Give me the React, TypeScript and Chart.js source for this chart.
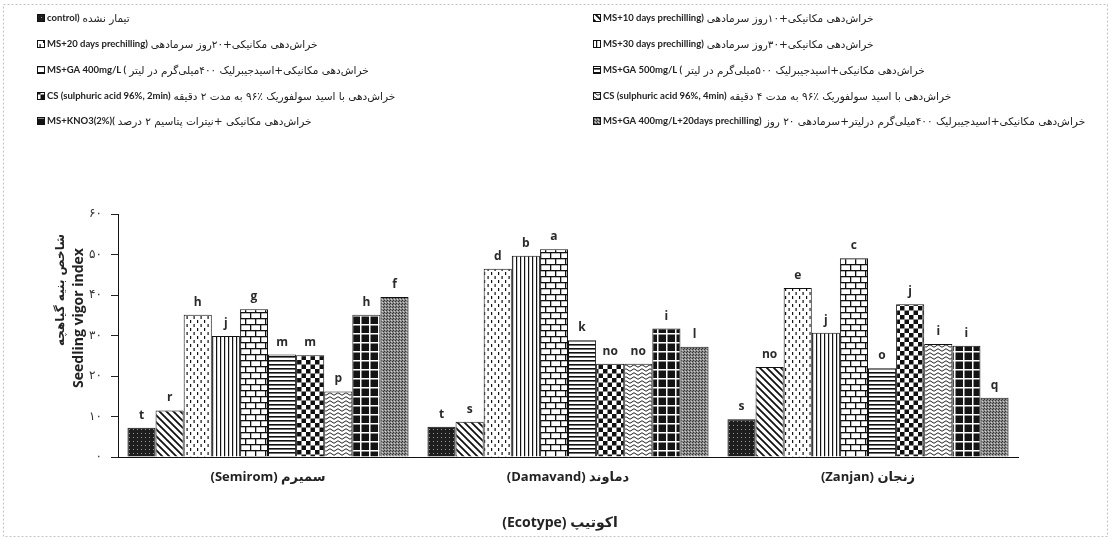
import React, { useEffect, useRef } from 'react';
import { Chart, registerables } from 'chart.js';

Chart.register(...registerables);

// ---------- data ----------
const ecotypes = ['(Semirom) سمیرم', '(Damavand) دماوند', '(Zanjan) زنجان'];
const yTickLabels = ['۰', '۱۰', '۲۰', '۳۰', '۴۰', '۵۰', '۶۰'];

const controlValues = [7.2, 7.5, 9.3];
const ms10Values = [11.5, 8.7, 22.2];
const ms20Values = [35.1, 46.5, 41.7];
const ms30Values = [29.9, 49.7, 30.7];
const ga400Values = [36.5, 51.3, 49.1];
const ga500Values = [25.3, 28.8, 21.9];
const cs2Values = [25.1, 23.0, 37.7];
const cs4Values = [16.2, 23.0, 27.9];
const kno3Values = [35.1, 31.7, 27.5];
const ga400p20Values = [39.5, 27.2, 14.6];

const controlLetters = ['t', 't', 's'];
const ms10Letters = ['r', 's', 'no'];
const ms20Letters = ['h', 'd', 'e'];
const ms30Letters = ['j', 'b', 'j'];
const ga400Letters = ['g', 'a', 'c'];
const ga500Letters = ['m', 'k', 'o'];
const cs2Letters = ['m', 'no', 'j'];
const cs4Letters = ['p', 'no', 'i'];
const kno3Letters = ['h', 'i', 'i'];
const ga400p20Letters = ['f', 'l', 'q'];

const treatmentEnglish = [
  'control)',
  'MS+10 days prechilling)',
  'MS+20 days prechilling)',
  'MS+30 days prechilling)',
  'MS+GA 400mg/L (',
  'MS+GA 500mg/L (',
  'CS (sulphuric acid 96%, 2min)',
  'CS (sulphuric acid 96%, 4min)',
  'MS+KNO3(2%)(',
  'MS+GA 400mg/L+20days prechilling)',
];
const treatmentPersian = [
  'تیمار نشده',
  'خراش‌دهی مکانیکی+۱۰روز سرمادهی',
  'خراش‌دهی مکانیکی+۲۰روز سرمادهی',
  'خراش‌دهی مکانیکی+۳۰روز سرمادهی',
  'خراش‌دهی مکانیکی+اسیدجیبرلیک ۴۰۰میلی‌گرم در لیتر',
  'خراش‌دهی مکانیکی+اسیدجیبرلیک ۵۰۰میلی‌گرم در لیتر',
  'خراش‌دهی با اسید سولفوریک ٪۹۶ به مدت ۲ دقیقه',
  'خراش‌دهی با اسید سولفوریک ٪۹۶ به مدت ۴ دقیقه',
  'خراش‌دهی مکانیکی +نیترات پتاسیم ۲ درصد',
  'خراش‌دهی مکانیکی+اسیدجیبرلیک ۴۰۰میلی‌گرم درلیتر+سرمادهی ۲۰ روز',
];

const yTitleEnglish = 'Seedling vigor index';
const yTitlePersian = 'شاخص بنیه گیاهچه';
const xTitle = '(Ecotype) اکوتیپ';

const seriesValues = [
  controlValues, ms10Values, ms20Values, ms30Values, ga400Values,
  ga500Values, cs2Values, cs4Values, kno3Values, ga400p20Values,
];
const seriesLetters = [
  controlLetters, ms10Letters, ms20Letters, ms30Letters, ga400Letters,
  ga500Letters, cs2Letters, cs4Letters, kno3Letters, ga400p20Letters,
];

// ---------- patterns ----------
function makePattern(w: number, h: number, draw: (c: CanvasRenderingContext2D) => void): CanvasPattern {
  const cv = document.createElement('canvas');
  cv.width = w;
  cv.height = h;
  const c = cv.getContext('2d')!;
  draw(c);
  return c.createPattern(cv, 'repeat')!;
}

function buildPatterns(): CanvasPattern[] {
  const bg = (c: CanvasRenderingContext2D, w: number, h: number, col = '#fff') => {
    c.fillStyle = col;
    c.fillRect(0, 0, w, h);
  };
  return [
    // control: dark with light dots
    makePattern(4, 4, (c) => {
      bg(c, 4, 4, '#1e1e1e');
      c.fillStyle = '#9a9a9a';
      c.fillRect(1, 1, 1, 1);
    }),
    // MS+10: backslash diagonal stripes
    makePattern(7, 7, (c) => {
      bg(c, 7, 7);
      c.strokeStyle = '#111';
      c.lineWidth = 1.8;
      c.beginPath();
      c.moveTo(-1, -1); c.lineTo(8, 8);
      c.moveTo(-1, 6); c.lineTo(1, 8);
      c.moveTo(6, -1); c.lineTo(8, 1);
      c.stroke();
    }),
    // MS+20: staggered vertical dashes
    makePattern(7, 8, (c) => {
      bg(c, 7, 8);
      c.fillStyle = '#111';
      c.fillRect(1, 0, 1.2, 3);
      c.fillRect(4.5, 4, 1.2, 3);
    }),
    // MS+30: vertical lines
    makePattern(4, 4, (c) => {
      bg(c, 4, 4);
      c.fillStyle = '#111';
      c.fillRect(0, 0, 1.2, 4);
    }),
    // GA400: bricks
    makePattern(10, 12, (c) => {
      bg(c, 10, 12);
      c.fillStyle = '#111';
      c.fillRect(0, 0, 10, 1.3);
      c.fillRect(0, 6, 10, 1.3);
      c.fillRect(0, 0, 1.3, 6);
      c.fillRect(5, 6, 1.3, 6);
    }),
    // GA500: horizontal lines
    makePattern(4, 4, (c) => {
      bg(c, 4, 4);
      c.fillStyle = '#111';
      c.fillRect(0, 0, 4, 1.6);
    }),
    // CS 2min: checkerboard
    makePattern(9, 9, (c) => {
      bg(c, 9, 9);
      c.fillStyle = '#111';
      c.fillRect(0, 0, 4.5, 4.5);
      c.fillRect(4.5, 4.5, 4.5, 4.5);
    }),
    // CS 4min: waves
    makePattern(8, 4, (c) => {
      bg(c, 8, 4);
      c.strokeStyle = '#222';
      c.lineWidth = 1;
      c.beginPath();
      c.moveTo(0, 2);
      c.quadraticCurveTo(2, -0.5, 4, 2);
      c.quadraticCurveTo(6, 4.5, 8, 2);
      c.stroke();
    }),
    // KNO3: black cells with white grid
    makePattern(9, 9, (c) => {
      bg(c, 9, 9, '#141414');
      c.fillStyle = '#fff';
      c.fillRect(0, 0, 9, 1.5);
      c.fillRect(0, 0, 1.5, 9);
    }),
    // GA400+20d: fine gray speckle
    makePattern(3, 3, (c) => {
      bg(c, 3, 3, '#8a8a8a');
      c.fillStyle = '#333';
      c.fillRect(0, 0, 1, 1);
      c.fillRect(2, 1, 1, 1);
      c.fillStyle = '#d0d0d0';
      c.fillRect(1, 2, 1, 1);
    }),
  ];
}

const FONT = '"Open Sans", "DejaVu Sans", sans-serif';

export default function App() {
  const canvasRef = useRef<HTMLCanvasElement | null>(null);

  useEffect(() => {
    document.body.style.margin = '0';
    const canvas = canvasRef.current!;
    const patterns = buildPatterns();

    const decorPlugin = {
      id: 'decor',
      beforeDraw(chart: any) {
        const ctx = chart.ctx as CanvasRenderingContext2D;
        ctx.save();
        ctx.fillStyle = '#fff';
        ctx.fillRect(0, 0, chart.width, chart.height);
        ctx.strokeStyle = '#c4c4c4';
        ctx.lineWidth = 1;
        ctx.setLineDash([2, 2]);
        ctx.strokeRect(3.5, 4.5, chart.width - 8, chart.height - 9);
        ctx.restore();
      },
      afterDatasetsDraw(chart: any) {
        const ctx = chart.ctx as CanvasRenderingContext2D;
        ctx.save();
        ctx.fillStyle = '#2a2a2a';
        ctx.font = `bold 12px ${FONT}`;
        ctx.textAlign = 'center';
        ctx.textBaseline = 'alphabetic';
        chart.data.datasets.forEach((_ds: any, i: number) => {
          const meta = chart.getDatasetMeta(i);
          meta.data.forEach((el: any, j: number) => {
            ctx.fillText(seriesLetters[i][j], el.x, el.y - 9);
          });
        });
        ctx.restore();
      },
      afterDraw(chart: any) {
        const ctx = chart.ctx as CanvasRenderingContext2D;
        ctx.save();
        // legend
        const colX = [37, 593];
        const rowY = [18, 44, 70, 96, 121];
        chart.data.datasets.forEach((ds: any, k: number) => {
          const col = k % 2;
          const row = Math.floor(k / 2);
          const x0 = colX[col];
          const y = rowY[row];
          ctx.fillStyle = ds.backgroundColor;
          ctx.fillRect(x0, y - 4, 8, 8);
          ctx.strokeStyle = '#111';
          ctx.lineWidth = 1;
          ctx.strokeRect(x0 + 0.5, y - 3.5, 7, 7);
          ctx.fillStyle = '#222';
          ctx.textBaseline = 'middle';
          ctx.textAlign = 'left';
          ctx.direction = 'ltr';
          ctx.font = `bold 9.5px Lato, ${FONT}`;
          const en = treatmentEnglish[k];
          ctx.fillText(en, x0 + 10, y);
          const w = ctx.measureText(en).width;
          ctx.font = `10.5px "DejaVu Sans", sans-serif`;
          ctx.direction = 'rtl';
          ctx.textAlign = 'left';
          ctx.fillText(treatmentPersian[k], x0 + 10 + w + 3, y + 1);
          ctx.direction = 'ltr';
        });
        // y axis titles
        ctx.fillStyle = '#222';
        ctx.textAlign = 'center';
        ctx.textBaseline = 'middle';
        ctx.save();
        ctx.translate(79, 318);
        ctx.rotate(-Math.PI / 2);
        ctx.font = `bold 14px ${FONT}`;
        ctx.fillText(yTitleEnglish, 0, 0);
        ctx.restore();
        ctx.save();
        ctx.translate(61, 290);
        ctx.rotate(-Math.PI / 2);
        ctx.direction = 'rtl';
        ctx.font = `bold 12px "DejaVu Sans", sans-serif`;
        ctx.fillText(yTitlePersian, 0, 0);
        ctx.restore();
        // x title
        ctx.font = `bold 14px ${FONT}`;
        ctx.fillText(xTitle, 560, 523);
        ctx.restore();
      },
    };

    const chart = new Chart(canvas, {
      type: 'bar',
      data: {
        labels: ecotypes,
        datasets: seriesValues.map((vals, i) => ({
          label: treatmentEnglish[i],
          data: vals,
          backgroundColor: patterns[i] as any,
          borderColor: '#111',
          borderWidth: 1,
          borderSkipped: 'bottom' as any,
          categoryPercentage: 0.937,
          barPercentage: 1.0,
        })),
      },
      options: {
        responsive: false,
        animation: false,
        layout: { padding: { left: 0, right: 94, top: 214, bottom: 0 } },
        plugins: {
          legend: { display: false },
          tooltip: { enabled: false },
        },
        scales: {
          x: {
            grid: { display: false, drawTicks: false },
            border: { display: true, color: '#111', width: 1 },
            ticks: {
              padding: 12,
              color: '#222',
              font: { family: FONT, size: 13, weight: 'bold' },
            },
            afterFit: (s: any) => { s.height = 84; },
          },
          y: {
            min: 0,
            max: 60,
            grid: {
              display: true,
              drawOnChartArea: false,
              drawTicks: true,
              tickLength: 7,
              color: '#222',
            },
            border: { display: true, color: '#111', width: 1 },
            ticks: {
              stepSize: 10,
              padding: 9,
              color: '#333',
              font: { family: '"DejaVu Sans", sans-serif', size: 12 },
              callback: (v: any) => yTickLabels[Math.round(Number(v) / 10)],
            },
            afterFit: (s: any) => { s.width = 118; },
          },
        },
      },
      plugins: [decorPlugin],
    });

    return () => chart.destroy();
  }, []);

  return (
    <div style={{ width: 1112, height: 541 }}>
      <canvas ref={canvasRef} width={1112} height={541} style={{ display: 'block', width: 1112, height: 541 }} />
    </div>
  );
}
